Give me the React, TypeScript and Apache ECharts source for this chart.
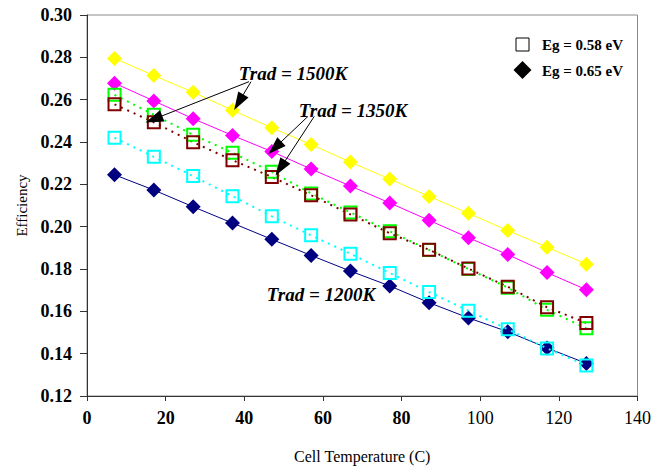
import React, { useEffect, useRef } from "react";
import * as echarts from "echarts";

// Cell temperature (C)
const temperatures = [7, 17, 27, 37, 47, 57, 67, 77, 87, 97, 107, 117, 127];

// Eg = 0.65 eV (filled diamonds, solid lines)
const eff1500_065 = [0.2795, 0.2714, 0.2635, 0.255, 0.2467, 0.2388, 0.2305, 0.2225, 0.2143, 0.2063, 0.1982, 0.1903, 0.1823];
const eff1350_065 = [0.2678, 0.2594, 0.251, 0.2431, 0.2355, 0.2272, 0.2192, 0.2112, 0.203, 0.1948, 0.1868, 0.1783, 0.1702];
const eff1200_065 = [0.2245, 0.2173, 0.2094, 0.2017, 0.194, 0.1864, 0.179, 0.172, 0.1641, 0.1569, 0.1504, 0.1427, 0.1354];

// Eg = 0.58 eV (open squares, dotted lines)
const eff1500_058 = [0.2623, 0.2529, 0.2434, 0.2349, 0.2259, 0.2157, 0.2067, 0.1978, 0.189, 0.18, 0.1712, 0.1607, 0.152];
const eff1350_058 = [0.2578, 0.2493, 0.2399, 0.2314, 0.2235, 0.2148, 0.2058, 0.1969, 0.1891, 0.1802, 0.1716, 0.1619, 0.1545];
const eff1200_058 = [0.242, 0.233, 0.2239, 0.2144, 0.2049, 0.1959, 0.1872, 0.1781, 0.1691, 0.1603, 0.1515, 0.1425, 0.1344];

const xMin = 0, xMax = 140, xStep = 20;
const yMin = 0.12, yMax = 0.3, yStep = 0.02;

// Annotation arrows in data coordinates: [startX, startY, tipX, tipY]
const arrows1500 = [
  [41.2, 0.2685, 17.0, 0.2508],
  [41.7, 0.2685, 38.6, 0.2588],
];
const arrows1350 = [
  [56.2, 0.2521, 47.8, 0.2373],
  [57.8, 0.2521, 49.2, 0.2277],
];

const SERIF = "Liberation Serif, Times New Roman, serif";

const pairs = (ys: number[]) => temperatures.map((t, i) => [t, ys[i]]);

function diamondSeries(name: string, ys: number[], color: string) {
  return {
    name,
    type: "line",
    data: pairs(ys),
    symbol: "diamond",
    symbolSize: [15, 15],
    itemStyle: { color },
    lineStyle: { color, width: 1 },
    z: 3,
  };
}

function squareSeries(name: string, ys: number[], color: string) {
  return {
    name,
    type: "line",
    data: pairs(ys),
    symbol: "rect",
    symbolSize: [12, 12],
    itemStyle: { color: "rgba(0,0,0,0)", borderColor: color, borderWidth: 2 },
    lineStyle: { color, width: 2, type: [2, 5] },
    z: 4,
  };
}

export default function App() {
  const ref = useRef<HTMLDivElement>(null);

  useEffect(() => {
    document.body.style.margin = "0";
    if (!ref.current) return;
    const chart = echarts.init(ref.current, undefined, { renderer: "svg" });

    const arrowData = [...arrows1500, ...arrows1350].map((a) => [
      { coord: [a[0], a[1]], symbol: "none" },
      { coord: [a[2], a[3]], symbol: "triangle", symbolSize: [12, 18] },
    ]);

    const annot = (text: string, x: number, y: number) => ({
      type: "text",
      z: 10,
      style: {
        text, x, y, align: "center", verticalAlign: "middle",
        fontFamily: SERIF, fontSize: 19, fontWeight: "bold", fontStyle: "italic", fill: "#000",
      },
    });
    const legendText = (text: string, x: number, y: number) => ({
      type: "text",
      z: 10,
      style: {
        text, x, y, verticalAlign: "middle",
        fontFamily: SERIF, fontSize: 15, fontWeight: "bold", fill: "#000",
      },
    });

    chart.setOption({
      animation: false,
      backgroundColor: "#ffffff",
      grid: {
        left: 87,
        right: 16,
        top: 15,
        bottom: 74,
        show: true,
        borderColor: "#8c8c8c",
        borderWidth: 1,
      },
      xAxis: {
        type: "value",
        min: xMin,
        max: xMax,
        interval: xStep,
        name: "Cell Temperature (C)",
        nameLocation: "middle",
        nameGap: 52,
        nameTextStyle: { fontFamily: SERIF, fontSize: 16, color: "#000" },
        axisLine: { show: true, lineStyle: { color: "#333", width: 1 } },
        axisTick: { show: true, length: 5, lineStyle: { color: "#333" } },
        splitLine: { show: false },
        axisLabel: {
          margin: 13,
          formatter: (v: number) => (v >= 100 ? `{r|${v}}` : `{b|${v}}`),
          rich: {
            b: { fontFamily: SERIF, fontSize: 18, fontWeight: "bold", color: "#000" },
            r: { fontFamily: SERIF, fontSize: 18, fontWeight: "normal", color: "#000" },
          },
        },
      },
      yAxis: {
        type: "value",
        min: yMin,
        max: yMax,
        interval: yStep,
        name: "Efficiency",
        nameLocation: "middle",
        nameGap: 58,
        nameTextStyle: { fontFamily: SERIF, fontSize: 15, color: "#000" },
        axisLine: { show: true, lineStyle: { color: "#333", width: 1 } },
        axisTick: { show: true, length: 7, lineStyle: { color: "#333" } },
        splitLine: { show: false },
        axisLabel: {
          margin: 15,
          formatter: (v: number) => v.toFixed(2),
          fontFamily: SERIF,
          fontSize: 18,
          fontWeight: "bold",
          color: "#000",
        },
      },
      series: [
        diamondSeries("Trad = 1500K, Eg = 0.65 eV", eff1500_065, "#FFFF00"),
        diamondSeries("Trad = 1350K, Eg = 0.65 eV", eff1350_065, "#FF00FF"),
        diamondSeries("Trad = 1200K, Eg = 0.65 eV", eff1200_065, "#000080"),
        squareSeries("Trad = 1500K, Eg = 0.58 eV", eff1500_058, "#00FF00"),
        squareSeries("Trad = 1350K, Eg = 0.58 eV", eff1350_058, "#800000"),
        squareSeries("Trad = 1200K, Eg = 0.58 eV", eff1200_058, "#00FFFF"),
        {
          name: "arrows",
          type: "line",
          data: [],
          silent: true,
          z: 5,
          markLine: {
            silent: true,
            animation: false,
            label: { show: false },
            lineStyle: { color: "#000", width: 1, type: "solid" },
            itemStyle: { color: "#000" },
            symbol: ["none", "triangle"],
            data: arrowData,
          },
        },
      ],
      graphic: [
        annot("Trad = 1500K", 293, 73),
        annot("Trad = 1350K", 353, 110),
        annot("Trad = 1200K", 321, 294),
        {
          type: "rect",
          shape: { x: 516, y: 38, width: 13, height: 13 },
          style: { fill: "#fff", stroke: "#000", lineWidth: 1 },
          z: 10,
        },
        legendText("Eg = 0.58 eV", 542, 45),
        {
          type: "polygon",
          shape: { points: [[522.5, 61], [531.5, 70], [522.5, 79], [513.5, 70]] },
          style: { fill: "#000" },
          z: 10,
        },
        legendText("Eg = 0.65 eV", 542, 71),
      ],
    });

    return () => chart.dispose();
  }, []);

  return <div ref={ref} style={{ width: 654, height: 470 }} />;
}
